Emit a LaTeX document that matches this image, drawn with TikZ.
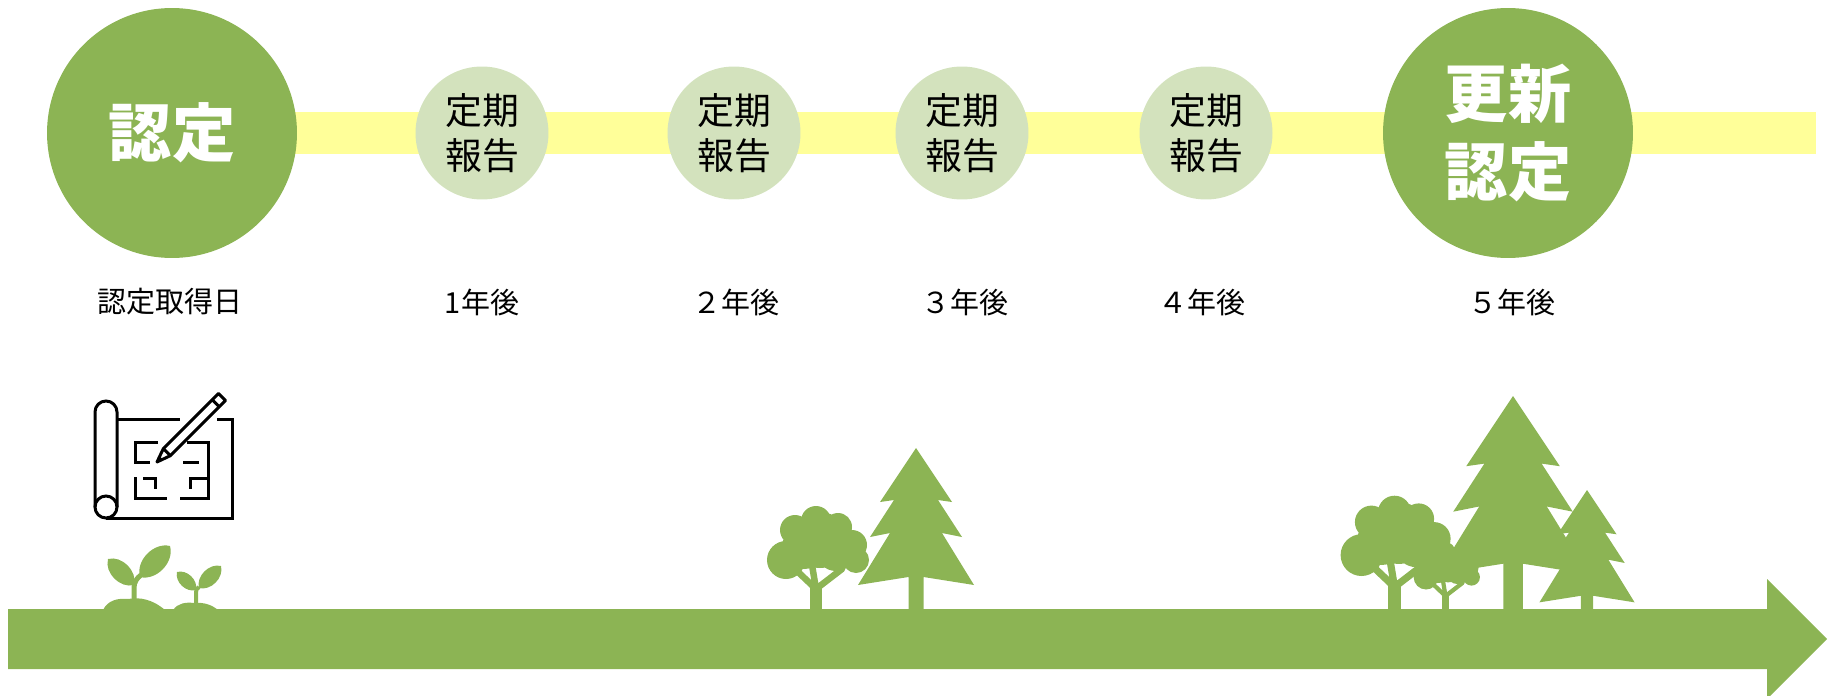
\documentclass[tikz,border=0pt]{standalone}
\usepackage{fontspec}
\newfontfamily\jp{Noto Sans CJK JP}
\usetikzlibrary{backgrounds}

\definecolor{leafgreen}{HTML}{8CB454}
\definecolor{palegreen}{HTML}{D3E2BD}
\definecolor{baryellow}{HTML}{FFFF99}

\tikzset{
  bigdot/.style={circle, fill=leafgreen, minimum size=5cm, inner sep=0pt,
    text=white, align=center, font=\jp\bfseries\fontsize{36}{44}\selectfont},
  smalldot/.style={circle, fill=palegreen, minimum size=2.66cm, inner sep=0pt,
    align=center, font=\jp\fontsize{21}{25.5}\selectfont},
  yearlbl/.style={inner sep=0pt, font=\jp\fontsize{16.5}{20}\selectfont},
  timebar/.style={draw=baryellow, line width=0.86cm},
  plan/.style={draw=black, line width=0.06cm},
  sproutstem/.style={draw=leafgreen, line width=0.1cm},
}

% broad-leaf tree: foot of trunk (x,y), scale
\newcommand{\broadtree}[3]{%
  \begin{scope}[shift={(#1,#2)}, scale=#3]
    \fill[leafgreen] (-30,-49) circle (19) (-21,-79) circle (15) (0,-88) circle (15)
      (22,-82) circle (14) (36,-64) circle (15) (40,-49) circle (13)
      (4,-69) circle (28) (-12,-62) circle (22) (20,-58) circle (20);
    \fill[leafgreen] (-6,40) rectangle (6,-24);
    \draw[leafgreen, line width=#3*1.3mm, line cap=round]
      (0,-20) -- (-19,-38) (0,-20) -- (-4,-44) (0,-20) -- (26,-40);
  \end{scope}}

% fir tree: apex (x,y), scale
\newcommand{\firtree}[3]{%
  \begin{scope}[shift={(#1,#2)}, scale=#3]
    \fill[leafgreen] (0,0) -- (36,54) -- (22,52) -- (46,89) -- (26,85) -- (58,137)
      -- (7.5,129) -- (7.5,200) -- (-7.5,200) -- (-7.5,129) -- (-58,137)
      -- (-26,85) -- (-46,89) -- (-22,52) -- (-36,54) -- cycle;
  \end{scope}}

\begin{document}
\begin{tikzpicture}[x=0.02cm, y=-0.02cm]
  \useasboundingbox (0,0) rectangle (1829,696);

  %%       (label)            (x, y)         {\text}
  \node[bigdot]   (cert)  at (172,133)  {認定};
  \node[smalldot] (rep1)  at (482,133)  {定期\\報告};
  \node[smalldot] (rep2)  at (734,133)  {定期\\報告};
  \node[smalldot] (rep3)  at (962,133)  {定期\\報告};
  \node[smalldot] (rep4)  at (1206,133) {定期\\報告};
  \node[bigdot]   (renew) at (1508,133) {更新\\認定};
  \coordinate (barEnd) at (1816,133);

  \begin{pgfonlayer}{background}
    \draw[timebar] (cert.center) -- (barEnd);
  \end{pgfonlayer}

  \node[yearlbl] (lbl0) at (170,302)  {認定取得日};
  \node[yearlbl] (lbl1) at (482,302)  {1年後};
  \node[yearlbl] (lbl2) at (736,302)  {２年後};
  \node[yearlbl] (lbl3) at (965,302)  {３年後};
  \node[yearlbl] (lbl4) at (1202,302) {４年後};
  \node[yearlbl] (lbl5) at (1512,302) {５年後};

  % drawing sheet with pencil
  \draw[plan] (95,507) -- (95,412) arc (180:360:11) -- (117,507);
  \draw[plan] (106,507) circle (11);
  \draw[plan] (117,419) -- (180,419) (217,419) -- (232,419) -- (232,518) -- (106,518);
  \draw[plan] (158,442) -- (135,442) -- (135,462) -- (150,462);
  \draw[plan] (135,477) -- (135,498) -- (167,498);
  \draw[plan] (143,478) -- (155,478) -- (155,489);
  \draw[plan] (187,442) -- (208,442) -- (208,498) -- (180,498);
  \draw[plan] (183,462) -- (199,462);
  \draw[plan] (208,478) -- (190,478) -- (190,489);
  \begin{scope}[shift={(157,462)}, rotate=45]
    \filldraw[plan, fill=white, line join=round] (0,0) -- (14,5) -- (92,5) -- (92,-5) -- (14,-5) -- cycle;
    \draw[plan] (14,5) -- (14,-5) (83,5) -- (83,-5);
    \fill (0,0) -- (6,2.2) -- (6,-2.2) -- cycle;
  \end{scope}

  % sprouts
  \fill[leafgreen] (103,610) .. controls (108,600) and (118,598) .. (128,599)
    .. controls (140,597) and (152,599) .. (165,610) -- cycle;
  \fill[leafgreen] (173,610) .. controls (178,603) and (186,602) .. (194,603)
    .. controls (204,602) and (212,605) .. (218,610) -- cycle;
  \draw[sproutstem] (134,604) -- (134,588) .. controls (134,582) and (137,578) .. (141,575);
  \fill[leafgreen] (134,585) to[bend left=60] (108,559) to[bend left=60] (134,585);
  \fill[leafgreen] (140,577) to[bend left=60] (170,546) to[bend left=60] (140,577);
  \draw[sproutstem, line width=0.08cm] (196,605) -- (196,592) .. controls (196,590) and (197,588) .. (199,587);
  \fill[leafgreen] (196,590) to[bend left=60] (177,572) to[bend left=60] (196,590);
  \fill[leafgreen] (199,588) to[bend left=60] (221,566) to[bend left=60] (199,588);

  % trees
  \broadtree{816}{609}{1}
  \firtree{916}{448}{1}
  \firtree{1513}{396}{1.3}
  \broadtree{1394.5}{609}{1.1}
  \broadtree{1445.5}{609}{0.65}
  \firtree{1587}{490}{0.82}

  % time arrow
  \fill[leafgreen] (8,609) -- (1767,609) -- (1767,579) -- (1827,639)
    -- (1767,699) -- (1767,669) -- (8,669) -- cycle;
\end{tikzpicture}
\end{document}
